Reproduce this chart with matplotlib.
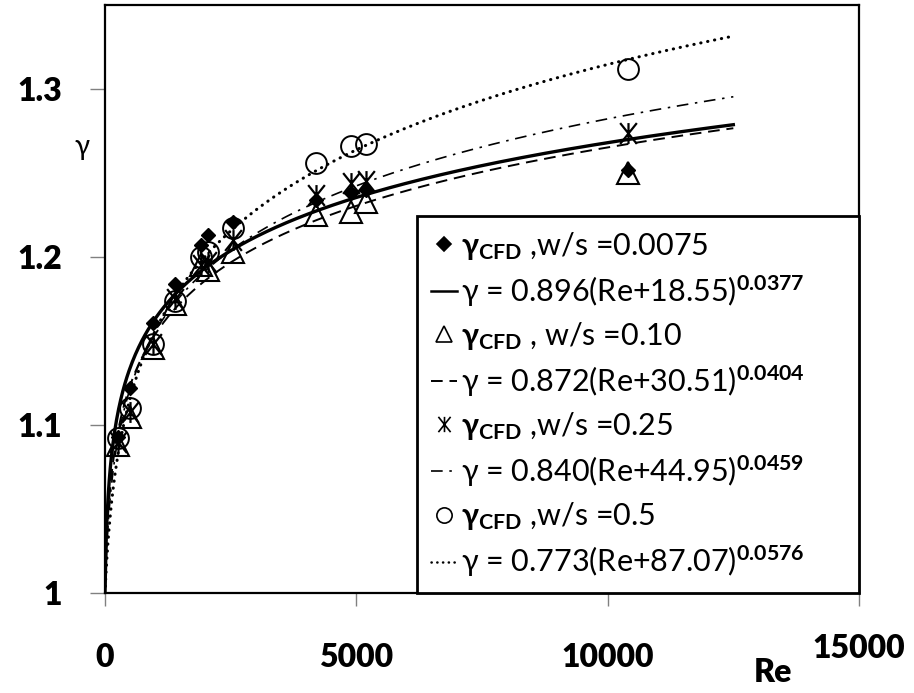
import numpy as np
import matplotlib
matplotlib.use('Agg')
import matplotlib.pyplot as plt
from matplotlib.path import Path
from matplotlib.lines import Line2D

plt.rcParams['font.family'] = ['Lato', 'DejaVu Sans']
plt.rcParams['mathtext.fontset'] = 'custom'
plt.rcParams['mathtext.rm'] = 'Lato'
plt.rcParams['mathtext.bf'] = 'Lato:bold'
plt.rcParams['mathtext.it'] = 'Lato:italic'

# CFD data: Reynolds number and gamma for each w/s ratio
re_pts = [250, 500, 950, 1400, 1900, 2050, 2550, 4200, 4900, 5200, 10400]
gamma_0075 = [1.093, 1.122, 1.161, 1.184, 1.207, 1.213, 1.221, 1.234, 1.238, 1.240, 1.252]
gamma_010 = [1.088, 1.105, 1.146, 1.172, 1.195, 1.192, 1.203, 1.225, 1.227, 1.233, 1.250]
gamma_025 = [1.090, 1.108, 1.148, 1.175, 1.195, 1.197, 1.210, 1.237, 1.244, 1.245, 1.274]
gamma_05 = [1.092, 1.110, 1.148, 1.174, 1.200, 1.203, 1.217, 1.256, 1.266, 1.267, 1.312]

# fit coefficients  gamma = a (Re + b)^c
fit_a = [0.896, 0.872, 0.840, 0.773]
fit_b = [18.55, 30.51, 44.95, 87.07]
fit_c = [0.0377, 0.0404, 0.0459, 0.0576]
re_max = 12500

x_ticks = [0, 5000, 10000, 15000]
y_ticks = [1, 1.1, 1.2, 1.3]
x_ticklabels = ['0', '5000', '10000', '15000']
y_ticklabels = ['1', '1.1', '1.2', '1.3']

data_labels = [r'$\mathbf{γ_{CFD}}$ ,w/s =0.0075',
               r'$\mathbf{γ_{CFD}}$ , w/s =0.10',
               r'$\mathbf{γ_{CFD}}$ ,w/s =0.25',
               r'$\mathbf{γ_{CFD}}$ ,w/s =0.5']
fit_labels = [r'γ = 0.896(Re+18.55)$^{\mathbf{0.0377}}$',
              r'γ = 0.872(Re+30.51)$^{\mathbf{0.0404}}$',
              r'γ = 0.840(Re+44.95)$^{\mathbf{0.0459}}$',
              r'γ = 0.773(Re+87.07)$^{\mathbf{0.0576}}$']

# asterisk marker: vertical bar + two diagonals
ast = Path([(0, -1), (0, 1), (-0.8, -1), (0.8, 1), (-0.8, 1), (0.8, -1)],
           [Path.MOVETO, Path.LINETO, Path.MOVETO, Path.LINETO, Path.MOVETO, Path.LINETO])

fig = plt.figure(figsize=(9.14, 6.93), dpi=100)
ax = fig.add_axes([105 / 914, 1 - 593 / 693, 754 / 914, 588 / 693])

re_fit = np.linspace(0, re_max, 600)
line_styles = [dict(ls='-', lw=2.4),
               dict(ls=(0, (6, 3.5)), lw=1.4),
               dict(ls=(0, (7, 4, 1.5, 4)), lw=1.2),
               dict(ls=(0, (0.1, 2.2)), lw=2.2, dash_capstyle='round')]

marker_styles = [dict(marker='D', ms=7, mfc='black', mec='black'),
                 dict(marker='^', ms=16, mfc='none', mec='black', mew=1.5),
                 dict(marker=ast, ms=15, mfc='none', mec='black', mew=1.6),
                 dict(marker='o', ms=15, mfc='none', mec='black', mew=1.4)]

series = [gamma_0075, gamma_010, gamma_025, gamma_05]
labels = []
for i in range(4):
    g_fit = fit_a[i] * (re_fit + fit_b[i]) ** fit_c[i]
    ax.plot(re_fit, g_fit, color='black', **line_styles[i])
    ax.plot(re_pts, series[i], ls='none', **marker_styles[i])
    labels += [data_labels[i], fit_labels[i]]

# legend handles with smaller markers
leg_handles = []
for i in range(4):
    ms = dict(marker_styles[i])
    ms['ms'] = 11 if i > 0 else 7
    ms['mew'] = 1.2
    leg_handles.append(Line2D([], [], ls='none', **ms))
    ls = dict(line_styles[i])
    ls['lw'] = min(ls['lw'], 1.8)
    leg_handles.append(Line2D([], [], color='black', **ls))

leg_x0 = (417 - 105) / 754
leg = ax.legend(leg_handles, labels, loc='lower left',
                bbox_to_anchor=(leg_x0, 0.0, 1.0 - leg_x0, 0.65), mode='expand',
                fontsize=22, frameon=True, fancybox=False, framealpha=1,
                edgecolor='black', handlelength=0.85, handletextpad=0.15,
                labelspacing=0.37, borderpad=0.45, borderaxespad=0)
leg.get_frame().set_linewidth(2.0)

ax.set_xlim(0, 15000)
ax.set_ylim(1, 1.35)
ax.set_xticks(x_ticks)
ax.set_yticks(y_ticks)
ax.set_xticklabels(x_ticklabels[:-1] + [''])
ax.set_yticklabels(y_ticklabels)
for lab in ax.get_xticklabels() + ax.get_yticklabels():
    lab.set_fontweight('heavy')
    lab.set_fontsize(23)
ax.tick_params(axis='y', direction='out', length=11, width=1, color='#808080', pad=20)
ax.tick_params(axis='x', direction='out', length=9, width=1, color='#808080', pad=27)
for s in ax.spines.values():
    s.set_linewidth(1.6)
    s.set_color('black')

# last x tick label sits a little higher, next to the axis title
ax.text(x_ticks[-1], (593 - 648) / 588, x_ticklabels[-1], transform=ax.get_xaxis_transform(),
        fontsize=23, fontweight='heavy', ha='center', va='center')

fig.text(82 / 914, 1 - 147 / 693, 'γ', fontsize=20, ha='center', va='center')
fig.text(773 / 914, 1 - 672 / 693, 'Re', fontsize=23, fontweight='heavy', ha='center', va='center')

fig.savefig('out.png', dpi=100)
